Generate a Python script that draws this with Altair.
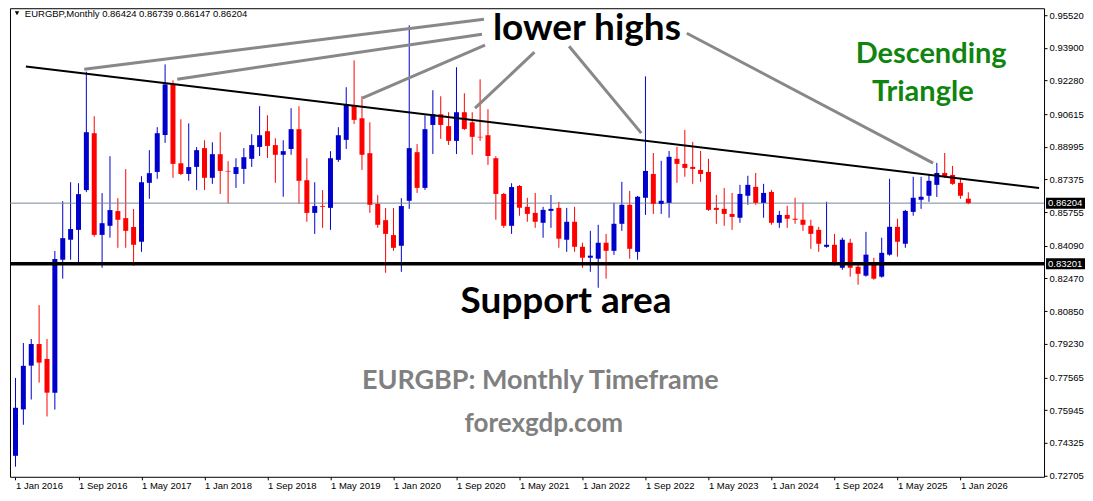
import altair as alt
import pandas as pd

# ---------------- data ----------------
OPEN = [0.7368, 0.7598, 0.7815, 0.7922, 0.7848, 0.7681, 0.8340, 0.8439, 0.8488, 0.8685,
        0.8967, 0.8463, 0.8508, 0.8581, 0.8546, 0.8502, 0.8429, 0.8721, 0.8775, 0.8958,
        0.9209, 0.8818, 0.8765, 0.8800, 0.8893, 0.8746, 0.8863, 0.8780, 0.8765, 0.8790,
        0.8840, 0.8899, 0.8977, 0.8908, 0.8860, 0.8889, 0.8987, 0.8734, 0.8572, 0.8606,
        0.8597, 0.8835, 0.8934, 0.9106, 0.9041, 0.8868, 0.8617, 0.8536, 0.8462, 0.8409,
        0.8632, 0.8873, 0.8696, 0.9008, 0.9061, 0.9002, 0.8929, 0.9071, 0.9021, 0.8949,
        0.8957, 0.8843, 0.8666, 0.8508, 0.8705, 0.8602, 0.8572, 0.8523, 0.8582, 0.8597,
        0.8439, 0.8528, 0.8404, 0.8350, 0.8345, 0.8424, 0.8384, 0.8518, 0.8612, 0.8379,
        0.8647, 0.8765, 0.8617, 0.8622, 0.8840, 0.8815, 0.8800, 0.8785, 0.8775, 0.8597,
        0.8592, 0.8567, 0.8548, 0.8657, 0.8701, 0.8622, 0.8676, 0.8523, 0.8562, 0.8543,
        0.8538, 0.8508, 0.8488, 0.8404, 0.8414, 0.8300, 0.8424, 0.8305, 0.8261, 0.8320,
        0.8256, 0.8365, 0.8503, 0.8419, 0.8577, 0.8637, 0.8657, 0.8711, 0.8770, 0.8760,
        0.8721, 0.86424]
HIGH = [0.7754, 0.7927, 0.7947, 0.8115, 0.7947, 0.8383, 0.8630, 0.8724, 0.8719, 0.9272,
        0.9051, 0.8670, 0.8853, 0.8645, 0.8789, 0.8591, 0.8754, 0.8883, 0.8997, 0.9308,
        0.9229, 0.9036, 0.9016, 0.8898, 0.8932, 0.8922, 0.8972, 0.8828, 0.8843, 0.8893,
        0.8962, 0.9101, 0.9056, 0.8942, 0.8932, 0.9091, 0.9101, 0.8843, 0.8724, 0.8685,
        0.8878, 0.8997, 0.9195, 0.9328, 0.9150, 0.9021, 0.8660, 0.8596, 0.8596, 0.8645,
        0.9502, 0.8913, 0.9056, 0.9180, 0.9150, 0.9071, 0.9294, 0.9165, 0.9071, 0.9234,
        0.9086, 0.8853, 0.8671, 0.8719, 0.8710, 0.8647, 0.8671, 0.8602, 0.8661, 0.8627,
        0.8597, 0.8602, 0.8424, 0.8483, 0.8513, 0.8468, 0.8622, 0.8726, 0.8681, 0.8656,
        0.9249, 0.8869, 0.8830, 0.8879, 0.8899, 0.8983, 0.8924, 0.8879, 0.8840, 0.8661,
        0.8695, 0.8671, 0.8711, 0.8756, 0.8770, 0.8716, 0.8686, 0.8582, 0.8607, 0.8647,
        0.8622, 0.8538, 0.8503, 0.8627, 0.8468, 0.8449, 0.8444, 0.8325, 0.8478, 0.8350,
        0.8449, 0.8741, 0.8543, 0.8587, 0.8751, 0.8751, 0.8765, 0.8820, 0.8869, 0.8805,
        0.8741, 0.86739]
LOW = [0.7314, 0.7522, 0.7647, 0.7731, 0.7563, 0.7597, 0.8246, 0.8340, 0.8328, 0.8675,
       0.8454, 0.8300, 0.8449, 0.8399, 0.8399, 0.8310, 0.8379, 0.8642, 0.8741, 0.8919,
       0.8746, 0.8759, 0.8731, 0.8686, 0.8686, 0.8716, 0.8666, 0.8620, 0.8696, 0.8716,
       0.8800, 0.8854, 0.8844, 0.8721, 0.8652, 0.8860, 0.8617, 0.8528, 0.8468, 0.8498,
       0.8488, 0.8825, 0.8889, 0.9013, 0.8785, 0.8572, 0.8498, 0.8275, 0.8384, 0.8280,
       0.8592, 0.8671, 0.8686, 0.8864, 0.8939, 0.8909, 0.8864, 0.8983, 0.8860, 0.8929,
       0.8810, 0.8538, 0.8498, 0.8468, 0.8558, 0.8528, 0.8498, 0.8449, 0.8498, 0.8399,
       0.8379, 0.8379, 0.8300, 0.8280, 0.8201, 0.8246, 0.8364, 0.8483, 0.8345, 0.8340,
       0.8562, 0.8567, 0.8567, 0.8548, 0.8721, 0.8751, 0.8716, 0.8726, 0.8582, 0.8518,
       0.8508, 0.8488, 0.8523, 0.8612, 0.8612, 0.8548, 0.8513, 0.8498, 0.8498, 0.8518,
       0.8483, 0.8394, 0.8379, 0.8399, 0.8310, 0.8290, 0.8256, 0.8216, 0.8256, 0.8241,
       0.8251, 0.8360, 0.8355, 0.8399, 0.8558, 0.8592, 0.8627, 0.8651, 0.8745, 0.8711,
       0.8642, 0.86147]
CLOSE = [0.7606, 0.7814, 0.7922, 0.7830, 0.7681, 0.8343, 0.8447, 0.8492, 0.8665, 0.8972,
         0.8463, 0.8521, 0.8586, 0.8538, 0.8483, 0.8414, 0.8724, 0.8769, 0.8967, 0.9209,
         0.8815, 0.8765, 0.8799, 0.8883, 0.8746, 0.8863, 0.8780, 0.8777, 0.8799, 0.8848,
         0.8908, 0.8957, 0.8904, 0.8860, 0.8878, 0.8987, 0.8731, 0.8572, 0.8606, 0.8602,
         0.8843, 0.8957, 0.9111, 0.9033, 0.8860, 0.8612, 0.8513, 0.8468, 0.8399, 0.8606,
         0.8893, 0.8696, 0.8987, 0.9061, 0.9008, 0.8929, 0.9071, 0.8988, 0.8949, 0.8946,
         0.8854, 0.8666, 0.8508, 0.8700, 0.8597, 0.8567, 0.8528, 0.8587, 0.8592, 0.8444,
         0.8528, 0.8404, 0.8350, 0.8360, 0.8424, 0.8384, 0.8518, 0.8612, 0.8394, 0.8652,
         0.8780, 0.8617, 0.8632, 0.8850, 0.8815, 0.8795, 0.8790, 0.8765, 0.8587, 0.8587,
         0.8567, 0.8552, 0.8666, 0.8711, 0.8622, 0.8671, 0.8523, 0.8562, 0.8543, 0.8538,
         0.8513, 0.8468, 0.8419, 0.8414, 0.8325, 0.8439, 0.8300, 0.8270, 0.8365, 0.8246,
         0.8374, 0.8503, 0.8429, 0.8582, 0.8647, 0.8652, 0.8731, 0.8770, 0.8755, 0.8716,
         0.8657, 0.86204]

TICK_LABELS = ["1 Jan 2016", "1 Sep 2016", "1 May 2017", "1 Jan 2018", "1 Sep 2018",
               "1 May 2019", "1 Jan 2020", "1 Sep 2020", "1 May 2021", "1 Jan 2022",
               "1 Sep 2022", "1 May 2023", "1 Jan 2024", "1 Sep 2024", "1 May 2025",
               "1 Jan 2026"]
TICK_STEP = 8  # months between date labels
PRICE_TICKS = [0.95520, 0.93900, 0.92280, 0.90615, 0.88995, 0.87375, 0.85755, 0.84090,
               0.82470, 0.80850, 0.79230, 0.77565, 0.75945, 0.74325, 0.72705]

SUPPORT = 0.83201
LAST_PRICE = 0.86204
HEADER = "EURGBP,Monthly  0.86424 0.86739 0.86147 0.86204"

# descending trend line (month index, price)
TREND_K = [1.32, 129.98]
TREND_P = [0.92978, 0.86956]

# "lower highs" pointer lines (month index / price end points)
PTR_K1 = [8.73, 20.54, 44.04, 58.36, 70.30, 85.25]
PTR_P1 = [0.92844, 0.92349, 0.91408, 0.90913, 0.93983, 0.94627]
PTR_K2 = [59.49, 59.24, 59.62, 65.90, 79.47, 116.53]
PTR_P2 = [0.95320, 0.94577, 0.94033, 0.93686, 0.89675, 0.88189]

# ---------------- build tables ----------------
n = len(OPEN)
df = pd.DataFrame({"k": list(range(n)), "open": OPEN, "high": HIGH, "low": LOW, "close": CLOSE})
df["dir"] = ["up" if c >= o else "down" for o, c in zip(OPEN, CLOSE)]

W, H = 1035, 469
xs = alt.Scale(domain=[-0.0625, 129.98], nice=False, zero=False)
ys = alt.Scale(domain=[0.72640, 0.95865], nice=False, zero=False)

BLUE = "#0000CD"
RED = "#FF0000"
color = alt.Color("dir:N", scale=alt.Scale(domain=["up", "down"], range=[BLUE, RED]), legend=None)

label_arr = "[" + ",".join("'" + s + "'" for s in TICK_LABELS) + "]"
xaxis = alt.Axis(values=[i * TICK_STEP for i in range(len(TICK_LABELS))],
                 labelExpr=label_arr + "[round(datum.value/" + str(TICK_STEP) + ")]",
                 title=None, orient="bottom", labelAlign="left", labelFlush=False,
                 labelOverlap=False, tickSize=3, labelPadding=1, domain=False,
                 grid=False, labelBaseline="top")
yaxis = alt.Axis(values=PRICE_TICKS, format=".5f", title=None, orient="right",
                 tickSize=3, labelPadding=2, domain=False, grid=False,
                 labelOverlap=False, labelFlush=False)


def XQ(field):
    return alt.X(field, scale=xs, axis=xaxis)


def YQ(field):
    return alt.Y(field, scale=ys, axis=yaxis)


base = alt.Chart(df)

price_line = alt.Chart(pd.DataFrame({"p": [LAST_PRICE]})).mark_rule(
    color="#778899", strokeWidth=1).encode(y=YQ("p:Q"))

wicks = base.mark_rule(strokeWidth=1).encode(
    x=XQ("k:Q"), y=YQ("low:Q"), y2="high:Q", color=color)
bodies = base.mark_bar(size=5).encode(
    x=XQ("k:Q"), y=YQ("open:Q"), y2="close:Q", color=color)

support = alt.Chart(pd.DataFrame({"p": [SUPPORT]})).mark_rule(
    color="black", strokeWidth=3.5).encode(y=YQ("p:Q"))

trend = alt.Chart(pd.DataFrame({"k1": [TREND_K[0]], "p1": [TREND_P[0]],
                                "k2": [TREND_K[1]], "p2": [TREND_P[1]]})).mark_rule(
    color="black", strokeWidth=2).encode(x=XQ("k1:Q"), y=YQ("p1:Q"), x2="k2:Q", y2="p2:Q")

pointers = alt.Chart(pd.DataFrame({"k1": PTR_K1, "p1": PTR_P1, "k2": PTR_K2, "p2": PTR_P2})).mark_rule(
    color="#888888", strokeWidth=3).encode(x=XQ("k1:Q"), y=YQ("p1:Q"), x2="k2:Q", y2="p2:Q")


def label(text, k, p, size, col, font="Lato", weight="bold", align="center", baseline="alphabetic"):
    return alt.Chart(pd.DataFrame({"k": [k], "p": [p], "t": [text]})).mark_text(
        font=font, fontSize=size, fontWeight=weight, color=col, align=align, baseline=baseline
    ).encode(x=XQ("k:Q"), y=YQ("p:Q"), text="t:N")


texts = [
    label("lower highs", 72.56, 0.94280, 37, "black"),
    label("Support area", 69.92, 0.80762, 37, "black"),
    label("Descending", 116.28, 0.93141, 29, "#0F850F"),
    label("Triangle", 115.22, 0.91260, 29, "#0F850F"),
    label("EURGBP: Monthly Timeframe", 66.65, 0.76998, 27, "#808080"),
    label("forexgdp.com", 67.09, 0.74869, 26, "#808080"),
    label(HEADER, 1.19, 0.95836, 9.5, "black", font="Liberation Sans", weight="normal",
          align="left", baseline="top"),
]

tri = alt.Chart(pd.DataFrame({"k": [0.19], "p": [0.95617]})).mark_point(
    shape="triangle-down", filled=True, color="black", size=20, opacity=1).encode(
    x=XQ("k:Q"), y=YQ("p:Q"))

# boxed price labels on the right axis
boxes_df = pd.DataFrame({"p": [LAST_PRICE, SUPPORT], "t": [f"{LAST_PRICE:.5f}", f"{SUPPORT:.5f}"]})
boxes = alt.Chart(boxes_df).mark_rect(color="black", yOffset=-5.5, y2Offset=5.5).encode(
    x=alt.value(W + 2), x2=alt.value(W + 41), y=YQ("p:Q"), y2="p:Q")
box_text = alt.Chart(boxes_df).mark_text(
    color="white", font="Liberation Sans", fontSize=9.5, align="left", baseline="middle").encode(
    x=alt.value(W + 4), y=YQ("p:Q"), text="t:N")

chart = alt.layer(wicks, price_line, bodies, support, trend, pointers, *texts, tri, boxes, box_text).properties(
    width=W, height=H,
    padding=0,
    background="white",
).configure_view(stroke="black", strokeWidth=1).configure_axis(
    labelFont="Liberation Sans", labelFontSize=9.5, labelColor="black", tickColor="black",
    tickWidth=1, labelOverlap=False,
)

chart.save("out.html", embed_options={"renderer": "svg", "actions": False})
